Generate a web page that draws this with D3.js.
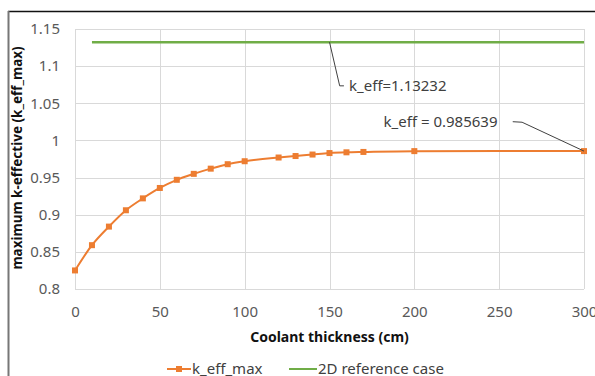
<!DOCTYPE html>
<html>
<head>
<meta charset="utf-8">
<script src="https://cdn.jsdelivr.net/npm/d3@7"></script>
<style>
  body { margin: 0; background: #fff; }
  svg { display: block; font-family: "Noto Sans", "Open Sans", sans-serif; }
</style>
</head>
<body>
<svg id="chart" width="595" height="376"></svg>
<script>
// data
var thickness = [0, 10, 20, 30, 40, 50, 60, 70, 80, 90, 100, 120, 130, 140, 150, 160, 170, 200, 300];
var keffMax = [0.825, 0.859, 0.884, 0.906, 0.922, 0.936, 0.947, 0.955, 0.962, 0.968, 0.972, 0.977, 0.979, 0.981, 0.983, 0.984, 0.9845, 0.9856, 0.985639];
var refX = [10, 300];
var refY = [1.13232, 1.13232];
var xTicks = [0, 50, 100, 150, 200, 250, 300];
var yTicks = [0.8, 0.85, 0.9, 0.95, 1, 1.05, 1.1, 1.15];
var seriesNames = ["k_eff_max", "2D reference case"];

var margin = {left: 75, top: 29};
var width = 509, height = 260;
var orange = "#ed7d31", green = "#70ad47";

var svg = d3.select("#chart");

// outer frame (only top + left visible in the picture)
svg.append("line").attr("x1", 8).attr("x2", 595).attr("y1", 11.5).attr("y2", 11.5)
  .attr("stroke", "#111").attr("stroke-width", 1.5);
svg.append("line").attr("x1", 8.5).attr("x2", 8.5).attr("y1", 11).attr("y2", 376)
  .attr("stroke", "#777").attr("stroke-width", 2);

var g = svg.append("g").attr("transform", "translate(" + margin.left + "," + margin.top + ")");

var xScale = d3.scaleLinear().domain([0, 300]).range([0, width]);
var yScale = d3.scaleLinear().domain([0.8, 1.15]).range([height, 0]);

// gridlines
g.append("g").selectAll("line").data(yTicks).enter().append("line")
  .attr("x1", 0).attr("x2", width)
  .attr("y1", function(d) { return Math.round(yScale(d)) + 0.5; })
  .attr("y2", function(d) { return Math.round(yScale(d)) + 0.5; })
  .attr("stroke", "#d9d9d9").attr("stroke-width", 1);
g.append("g").selectAll("line").data(xTicks).enter().append("line")
  .attr("y1", 0).attr("y2", height)
  .attr("x1", function(d) { return Math.round(xScale(d)) + 0.5; })
  .attr("x2", function(d) { return Math.round(xScale(d)) + 0.5; })
  .attr("stroke", "#d9d9d9").attr("stroke-width", 1);

// axes (labels only)
var xAxis = d3.axisBottom(xScale).tickValues(xTicks).tickSize(0).tickPadding(17).tickFormat(d3.format("d"));
var yAxis = d3.axisLeft(yScale).tickValues(yTicks).tickSize(0).tickPadding(15).tickFormat(function(d) { return String(+d.toFixed(2)); });

g.append("g").attr("transform", "translate(0," + height + ")").call(xAxis)
  .call(function(s) { s.select(".domain").remove(); })
  .selectAll("text").style("font-size", "15px").attr("fill", "#595959").style("font-family", "Noto Sans");
g.append("g").call(yAxis)
  .call(function(s) { s.select(".domain").remove(); })
  .selectAll("text").style("font-size", "15px").attr("fill", "#595959").style("font-family", "Noto Sans");

// reference line
var refData = refX.map(function(x, i) { return {x: x, y: refY[i]}; });
var line = d3.line().x(function(d) { return xScale(d.x); }).y(function(d) { return yScale(d.y); });
g.append("path").datum(refData).attr("d", line)
  .attr("fill", "none").attr("stroke", green).attr("stroke-width", 2.5);

// k_eff_max series
var keffData = thickness.map(function(x, i) { return {x: x, y: keffMax[i]}; });
var smooth = d3.line().curve(d3.curveMonotoneX)
  .x(function(d) { return xScale(d.x); }).y(function(d) { return yScale(d.y); });
g.append("path").datum(keffData).attr("d", smooth)
  .attr("fill", "none").attr("stroke", orange).attr("stroke-width", 2);
g.selectAll(".pt").data(keffData).enter().append("rect").attr("class", "pt")
  .attr("x", function(d) { return xScale(d.x) - 3; })
  .attr("y", function(d) { return yScale(d.y) - 3; })
  .attr("width", 6).attr("height", 6).attr("fill", orange);

// annotations
var ann = g.append("g").attr("fill", "none").attr("stroke", "#404040").attr("stroke-width", 1);
ann.append("path").attr("d", d3.line()([
  [xScale(150), yScale(refY[0])],
  [xScale(156), yScale(1.0735)],
  [xScale(158.5), yScale(1.0735)]
]));
g.append("text").attr("x", xScale(161.5)).attr("y", yScale(1.0735)).attr("dy", "0.35em")
  .text("k_eff=1.13232").style("font-size", "15px").attr("fill", "#404040");

var last = keffData[keffData.length - 1];
ann.append("path").attr("d", d3.line()([
  [xScale(258), yScale(1.0252)],
  [xScale(263.5), yScale(1.0245)],
  [xScale(last.x), yScale(last.y)]
]));
g.append("text").attr("x", xScale(249)).attr("y", yScale(1.0252)).attr("dy", "0.35em")
  .attr("text-anchor", "end")
  .text("k_eff = 0.985639").style("font-size", "15px").attr("fill", "#404040");

// axis titles
svg.append("text").attr("x", margin.left + width / 2).attr("y", 342)
  .attr("text-anchor", "middle").style("font-size", "14px").style("font-weight", "bold")
  .attr("fill", "#111").text("Coolant thickness (cm)");
svg.append("text").attr("transform", "translate(22," + (margin.top + height / 2 - 1) + ") rotate(-90)")
  .attr("text-anchor", "middle").style("font-size", "13.5px").style("font-weight", "bold")
  .attr("fill", "#111").text("maximum k-effective (k_eff_max)");

// legend
var legY = 369;
svg.append("line").attr("x1", 167).attr("x2", 191).attr("y1", legY).attr("y2", legY)
  .attr("stroke", orange).attr("stroke-width", 2);
svg.append("rect").attr("x", 176).attr("y", legY - 3).attr("width", 6).attr("height", 6).attr("fill", orange);
svg.append("text").attr("x", 192).attr("y", legY).attr("dy", "0.35em")
  .style("font-size", "15px").attr("fill", "#404040").text(seriesNames[0]);
svg.append("line").attr("x1", 289).attr("x2", 317).attr("y1", legY).attr("y2", legY)
  .attr("stroke", green).attr("stroke-width", 2);
svg.append("text").attr("x", 318).attr("y", legY).attr("dy", "0.35em")
  .style("font-size", "15px").attr("fill", "#404040").text(seriesNames[1]);
</script>
</body>
</html>
